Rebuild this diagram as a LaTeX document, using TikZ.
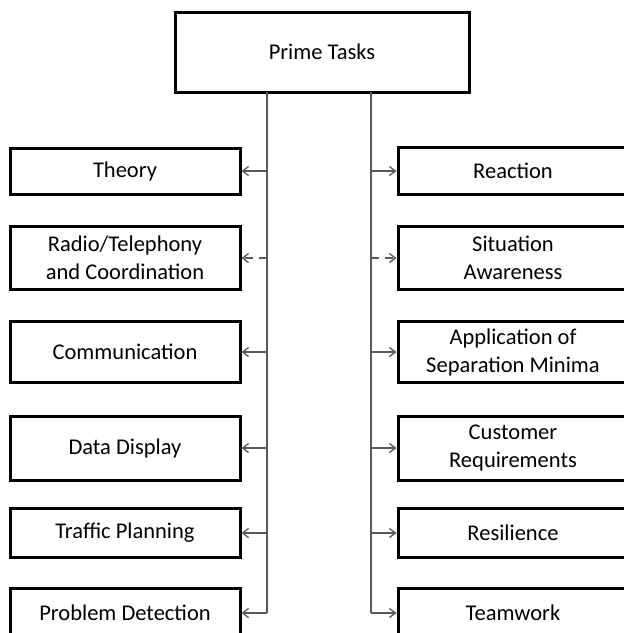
\documentclass[tikz,border=0pt]{standalone}
\usepackage{fontspec}
\setmainfont{Carlito}
\usetikzlibrary{arrows.meta}
\tikzset{
  taskbox/.style={draw=black, line width=3pt, fill=white, minimum width=230pt, inner sep=0pt, align=center, font=\fontsize{22.5}{28}\selectfont},
  primebox/.style={draw=black, line width=3pt, fill=white, minimum width=294pt, minimum height=80pt, inner sep=0pt, font=\fontsize{22.5}{28}\selectfont},
  conn/.style={draw=black!65, line width=2.2pt, -{Straight Barb[length=6pt,width=9pt,line width=1.3pt]}},
  trunk/.style={draw=black!65, line width=2.4pt}
}
\begin{document}
\begin{tikzpicture}[x=1pt,y=-1pt]
\useasboundingbox (0,0) rectangle (624,633);
\clip (0,0) rectangle (624,633);
\fill[white] (0,0) rectangle (624,633);
% prime
\node[primebox] (prime) at (322,52) {Prime Tasks};
% left boxes
\node[taskbox, minimum height=46pt] (theory) at (125,171) {Theory};
\node[taskbox, minimum height=63pt] (radio) at (125,258) {Radio/Telephony\\and Coordination};
\node[taskbox, minimum height=61pt] (comm) at (125,352) {Communication};
\node[taskbox, minimum height=64pt] (data) at (125,448) {Data Display};
\node[taskbox, minimum height=49pt] (traffic) at (125,533) {Traffic Planning};
\node[taskbox, minimum height=49pt] (problem) at (125,613) {Problem Detection};
% right boxes
\node[taskbox, minimum height=47pt] (reaction) at (513,171) {Reaction};
\node[taskbox, minimum height=63pt] (sit) at (513,258) {Situation\\Awareness};
\node[taskbox, minimum height=61pt] (appl) at (513,352) {Application of\\Separation Minima};
\node[taskbox, minimum height=64pt] (cust) at (513,448) {Customer\\Requirements};
\node[taskbox, minimum height=49pt] (resil) at (513,533) {Resilience};
\node[taskbox, minimum height=49pt] (team) at (513,613) {Teamwork};
% trunk coordinates
\coordinate (lt) at (267,92);
\coordinate (lb) at (267,613);
\coordinate (rt) at (371,92);
\coordinate (rb) at (371,613);
\draw[trunk] (lt) -- (lb);
\draw[trunk] (rt) -- (rb);
% left connectors
\draw[conn] (lt |- theory.east) -- (theory.east);
\draw[conn, dashed, dash pattern=on 8pt off 6pt] (lt |- radio.east) -- (radio.east);
\draw[conn] (lt |- comm.east) -- (comm.east);
\draw[conn] (lt |- data.east) -- (data.east);
\draw[conn] (lt |- traffic.east) -- (traffic.east);
\draw[conn] (lb) -- (problem.east);
% right connectors
\draw[conn] (rt |- reaction.west) -- (reaction.west);
\draw[conn, dashed, dash pattern=on 8pt off 6pt] (rt |- sit.west) -- (sit.west);
\draw[conn] (rt |- appl.west) -- (appl.west);
\draw[conn] (rt |- cust.west) -- (cust.west);
\draw[conn] (rt |- resil.west) -- (resil.west);
\draw[conn] (rb) -- (team.west);
\end{tikzpicture}
\end{document}
